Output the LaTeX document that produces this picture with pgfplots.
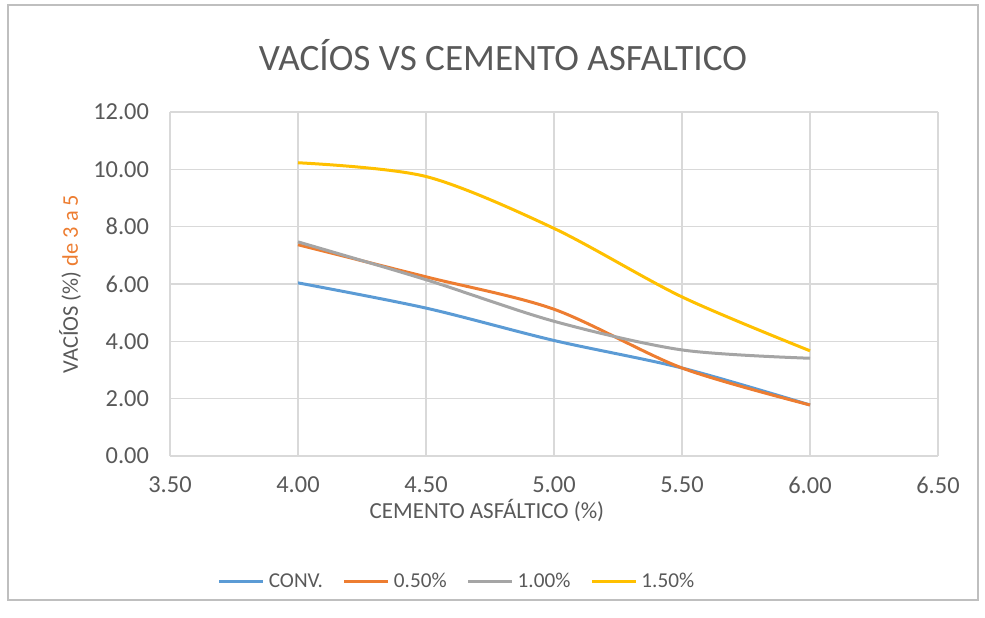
\documentclass[border=0pt]{standalone}
\usepackage{pgfplots}
\pgfplotsset{compat=1.18}
\usepackage{fontspec}
\setmainfont{Carlito}
\definecolor{cblue}{HTML}{5B9BD5}
\definecolor{corange}{HTML}{ED7D31}
\definecolor{cgray}{HTML}{A5A5A5}
\definecolor{cyellow}{HTML}{FFC000}
\definecolor{txt}{HTML}{595959}
\definecolor{grd}{HTML}{D9D9D9}
\begin{document}
\begin{tikzpicture}
\begin{axis}[
  name=ax, at={(0,0)}, anchor=south west,
  scale only axis, width=384pt, height=172pt,
  xmin=3.5, xmax=6.5, ymin=0, ymax=12,
  xtick={3.5,4,4.5,5,5.5,6,6.5},
  ytick={0,2,4,6,8,10,12},
  grid=major, major grid style={grd, line width=0.6pt},
  axis line style={draw=none},
  tick style={draw=none},
  /pgf/number format/assume math mode=true,
  xticklabel={\pgfmathprintnumber[fixed,fixed zerofill,precision=2]{\tick}},
  yticklabel={\pgfmathprintnumber[fixed,fixed zerofill,precision=2]{\tick}},
  xticklabel style={font=\fontsize{12.2}{14}\selectfont, text=txt, yshift=-7pt},
  yticklabel style={font=\fontsize{12.2}{14}\selectfont, text=txt, xshift=-7pt},
  legend columns=4,
  legend style={draw=none, fill=none, at={(0.375,-0.366)}, anchor=center,
    font=\fontsize{10.6}{12}\selectfont, text=txt,
    /tikz/every even column/.append style={column sep=8pt}},
  legend image code/.code={\draw[#1] (0pt,0pt) -- (22pt,0pt);},
  every axis plot/.append style={line width=1.5pt, smooth, no markers},
]
\addplot[cblue] coordinates {(4.0,6.04) (4.5,5.16) (5.0,4.03) (5.5,3.07) (6.0,1.78)};
\addlegendentry{CONV.}
\addplot[corange] coordinates {(4.0,7.37) (4.5,6.25) (5.0,5.12) (5.5,3.07) (6.0,1.78)};
\addlegendentry{0.50\%}
\addplot[cgray] coordinates {(4.0,7.47) (4.5,6.15) (5.0,4.70) (5.5,3.70) (6.0,3.41)};
\addlegendentry{1.00\%}
\addplot[cyellow] coordinates {(4.0,10.23) (4.5,9.75) (5.0,7.94) (5.5,5.55) (6.0,3.67)};
\addlegendentry{1.50\%}
\end{axis}
\useasboundingbox ([shift={(-85pt,-80.5pt)}]ax.south west) rectangle ([shift={(407.5pt,228pt)}]ax.south west);
\draw[gray!50, line width=0.8pt] ([shift={(-81pt,-72pt)}]ax.south west) rectangle ([shift={(404pt,225.5pt)}]ax.south west);
\node[text=txt, font=\fontsize{18.6}{21}\selectfont] at ([shift={(166.5pt,200.5pt)}]ax.south west) {VACÍOS VS CEMENTO ASFALTICO};
\node[text=txt, font=\fontsize{11.5}{13}\selectfont] at ([shift={(158.5pt,-27pt)}]ax.south west) {CEMENTO ASFÁLTICO (\%)};
\node[rotate=90, font=\fontsize{11.2}{13}\selectfont] at ([shift={(-50pt,86pt)}]ax.south west) {\textcolor{txt}{VACÍOS (\%)} \textcolor{corange}{de 3 a 5}};
\end{tikzpicture}
\end{document}
